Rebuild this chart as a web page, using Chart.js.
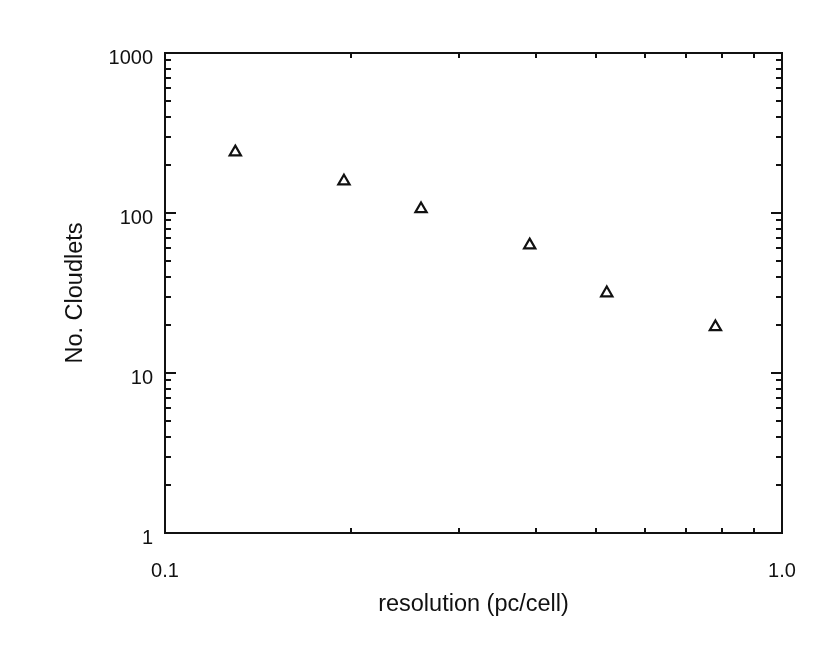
<!DOCTYPE html>
<html>
<head>
<meta charset="utf-8">
<script src="https://cdn.jsdelivr.net/npm/chart.js@4/dist/chart.umd.min.js"></script>
<style>
  body { margin: 0; background: #fff; }
  canvas { display: block; }
</style>
</head>
<body>
<canvas id="myChart" width="830" height="645"></canvas>
<script>
"use strict";

// data
const resolution = [0.13, 0.195, 0.26, 0.39, 0.52, 0.78];
const cloudlets = [240, 158, 106, 63, 31.6, 19.4];

// tick positions (1..9 per decade) and the labelled ones
const xTickValues = [0.1, 0.2, 0.3, 0.4, 0.5, 0.6, 0.7, 0.8, 0.9, 1];
const xLabelValues = [0.1, 1];
const xLabelText = ['0.1', '1.0'];
const yTickValues = [1, 2, 3, 4, 5, 6, 7, 8, 9,
  10, 20, 30, 40, 50, 60, 70, 80, 90,
  100, 200, 300, 400, 500, 600, 700, 800, 900, 1000];
const yLabelValues = [1, 10, 100, 1000];
const yLabelText = ['1', '10', '100', '1000'];

const fontFamily = '"Liberation Sans", Arial, Helvetica, sans-serif';

const pickLabel = (values, texts) => value => {
  const i = values.findIndex(v => Math.abs(v - value) / v < 1e-6);
  return i >= 0 ? texts[i] : '';
};

const isDecade = v => Math.abs(Math.log10(v) - Math.round(Math.log10(v))) < 1e-6;

// frame + inward ticks on all four sides
const frameTicks = {
  id: 'frameTicks',
  afterDraw(chart) {
    const {ctx, chartArea: a, scales: {x, y}} = chart;
    ctx.save();
    ctx.strokeStyle = '#111';
    ctx.lineWidth = 2;
    ctx.strokeRect(a.left, a.top, a.right - a.left, a.bottom - a.top);
    ctx.beginPath();
    y.ticks.forEach(t => {
      const py = Math.round(y.getPixelForValue(t.value));
      const len = isDecade(t.value) ? 11 : 6;
      ctx.moveTo(a.left, py); ctx.lineTo(a.left + len, py);
      ctx.moveTo(a.right, py); ctx.lineTo(a.right - len, py);
    });
    x.ticks.forEach(t => {
      const px = Math.round(x.getPixelForValue(t.value));
      const len = isDecade(t.value) ? 10 : 5;
      ctx.moveTo(px, a.bottom); ctx.lineTo(px, a.bottom - len);
      ctx.moveTo(px, a.top); ctx.lineTo(px, a.top + len);
    });
    ctx.stroke();
    ctx.restore();
  }
};

const data = {
  datasets: [{
    label: 'No. Cloudlets',
    data: resolution.map((r, i) => ({x: r, y: cloudlets[i]})),
    pointStyle: 'triangle',
    pointRadius: 6.5,
    pointBorderWidth: 2.2,
    pointBorderColor: '#111',
    pointBackgroundColor: 'rgba(0,0,0,0)',
    showLine: false
  }]
};

const config = {
  type: 'scatter',
  data: data,
  options: {
    responsive: false,
    animation: false,
    layout: { padding: { left: 0, top: 53, right: 48, bottom: 0 } },
    plugins: {
      legend: { display: false },
      tooltip: { enabled: false }
    },
    scales: {
      x: {
        type: 'logarithmic',
        min: 0.1,
        max: 1,
        grid: { display: false, drawTicks: false, tickLength: 0 },
        border: { display: false },
        afterFit: s => { s.height = 112; },
        afterBuildTicks: s => { s.ticks = xTickValues.map(v => ({value: v})); },
        ticks: {
          autoSkip: false,
          maxRotation: 0,
          padding: 26,
          color: '#111',
          font: { family: fontFamily, size: 20 },
          callback: pickLabel(xLabelValues, xLabelText)
        },
        title: {
          display: true,
          text: 'resolution (pc/cell)',
          color: '#111',
          font: { family: fontFamily, size: 23.5 },
          padding: { top: 26, bottom: 26 }
        }
      },
      y: {
        type: 'logarithmic',
        min: 1,
        max: 1000,
        grid: { display: false, drawTicks: false, tickLength: 0 },
        border: { display: false },
        afterFit: s => { s.width = 165; },
        afterBuildTicks: s => { s.ticks = yTickValues.map(v => ({value: v})); },
        ticks: {
          autoSkip: false,
          padding: 12,
          labelOffset: 5,
          color: '#111',
          font: { family: fontFamily, size: 20 },
          callback: pickLabel(yLabelValues, yLabelText)
        },
        title: {
          display: true,
          text: 'No. Cloudlets',
          color: '#111',
          font: { family: fontFamily, size: 23.5 },
          padding: { top: 61, bottom: 61 }
        }
      }
    }
  },
  plugins: [frameTicks]
};

const myChart = new Chart(document.getElementById('myChart'), config);
</script>
</body>
</html>
